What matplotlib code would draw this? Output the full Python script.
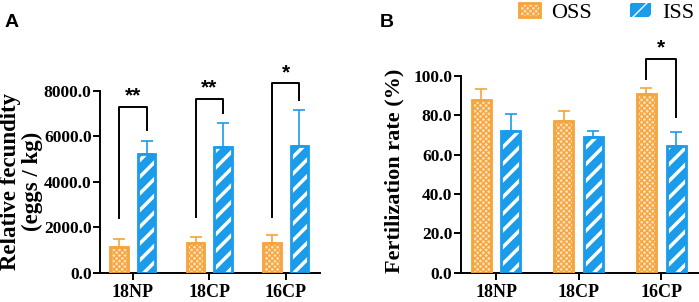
import matplotlib
matplotlib.use("Agg")
import matplotlib.pyplot as plt
import matplotlib.patches as mpatches
import numpy as np

# data
groups = ["18NP", "18CP", "16CP"]
fec_oss = [1120, 1320, 1290]
fec_oss_err = [350, 265, 365]
fec_iss = [5200, 5510, 5580]
fec_iss_err = [590, 1055, 1570]

fert_oss = [87.8, 77.3, 91.0]
fert_oss_err = [5.6, 5.1, 2.9]
fert_iss = [72.1, 69.0, 64.6]
fert_iss_err = [8.8, 3.1, 7.1]

orange = "#F6A43C"
orange_light = "#FCE0BC"
blue = "#1A9CEA"
serif = "Liberation Serif"
sans = "Liberation Sans"

fig = plt.figure(figsize=(6.99, 3.02), dpi=100)
axA = fig.add_axes([0.143, 0.097, 0.315, 0.603])
axB = fig.add_axes([0.659, 0.097, 0.34, 0.651])

x = np.arange(len(groups))
w = 0.23
off = 0.18


def draw_bars(ax, oss, oss_err, iss, iss_err):
    ax.errorbar(x - off, oss, yerr=[np.zeros(3), oss_err], fmt="none",
                ecolor=orange, elinewidth=1.2, capsize=4, capthick=1.2, zorder=1)
    ax.errorbar(x + off, iss, yerr=[np.zeros(3), iss_err], fmt="none",
                ecolor=blue, elinewidth=1.2, capsize=4, capthick=1.2, zorder=1)
    with plt.rc_context({"hatch.linewidth": 1.0}):
        ax.bar(x - off, oss, w, color=orange_light, edgecolor=orange,
               hatch="xxxxxx", linewidth=0, zorder=2)
    ax.bar(x - off, oss, w, fill=False, edgecolor=orange, linewidth=2, zorder=3)
    with plt.rc_context({"hatch.linewidth": 2.5}):
        ax.bar(x + off, iss, w, color=blue, edgecolor="white",
               hatch="//", linewidth=0, zorder=2)
    ax.bar(x + off, iss, w, fill=False, edgecolor=blue, linewidth=2, zorder=3)


def style(ax, ymax, step):
    for s in ["top", "right"]:
        ax.spines[s].set_visible(False)
    for s in ["left", "bottom"]:
        ax.spines[s].set_linewidth(1.4)
    ax.set_xlim(-0.43, 2.45)
    ax.set_ylim(0, ymax)
    ax.set_yticks(np.arange(0, ymax + step / 2, step))
    ax.set_yticklabels([f"{v:.1f}" for v in np.arange(0, ymax + step / 2, step)],
                       fontfamily=serif, fontweight="bold", fontsize=12.5)
    ax.set_xticks(x)
    ax.set_xticklabels(groups, fontfamily=serif, fontweight="bold", fontsize=13)
    ax.tick_params(axis="y", length=5, width=1.4, pad=1)
    ax.tick_params(axis="x", length=5, width=1.4, pad=3)


def bracket(ax, x1, x2, yl, yr, ytop, yt, label):
    ax.plot([x1, x1, x2, x2], [yl, ytop, ytop, yr], color="black",
            lw=1.4, clip_on=False, zorder=4)
    ax.text((x1 + x2) / 2, yt, label, ha="center", va="center",
            fontfamily=sans, fontweight="bold", fontsize=15, clip_on=False)


draw_bars(axA, fec_oss, fec_oss_err, fec_iss, fec_iss_err)
style(axA, 8000, 2000)
axA.set_ylabel("Relative fecundity\n(eggs / kg)", fontfamily=serif,
               fontweight="bold", fontsize=16.5, linespacing=1.05)
axA.yaxis.set_label_coords(-0.26, 0.5)
bracket(axA, -off, off, 2400, 6270, 7300, 7750, "**")
bracket(axA, 1 - off, 1 + off, 2460, 7000, 7640, 8100, "**")
bracket(axA, 2 - off, 2 + off, 2460, 7590, 8330, 8780, "*")

draw_bars(axB, fert_oss, fert_oss_err, fert_iss, fert_iss_err)
style(axB, 100, 20)
axB.set_ylabel("Fertilization rate (%)", fontfamily=serif,
               fontweight="bold", fontsize=16)
axB.yaxis.set_label_coords(-0.235, 0.52)
bracket(axB, 2 - off, 2 + off, 98.5, 79.0, 108.6, 114.5, "*")

fig.text(0.006, 0.955, "A", fontfamily=sans, fontweight="bold", fontsize=14,
         va="top", ha="left")
fig.text(0.543, 0.955, "B", fontfamily=sans, fontweight="bold", fontsize=14,
         va="top", ha="left")

with plt.rc_context({"hatch.linewidth": 1.0}):
    h1 = mpatches.Patch(facecolor=orange_light, edgecolor=orange, hatch="xxxxxx",
                        linewidth=2)
with plt.rc_context({"hatch.linewidth": 2.5}):
    h2 = mpatches.Patch(facecolor=blue, edgecolor="white", hatch="//", linewidth=0)
fig.legend([h1, h2], ["OSS", "ISS"], loc="upper right",
           bbox_to_anchor=(694 / 699, 0.99), borderaxespad=0, borderpad=0,
           ncol=2, frameon=False, prop={"family": serif, "size": 16},
           handlelength=0.95, handleheight=0.6, columnspacing=1.7,
           handletextpad=0.5)

fig.savefig("out.png", dpi=100)
